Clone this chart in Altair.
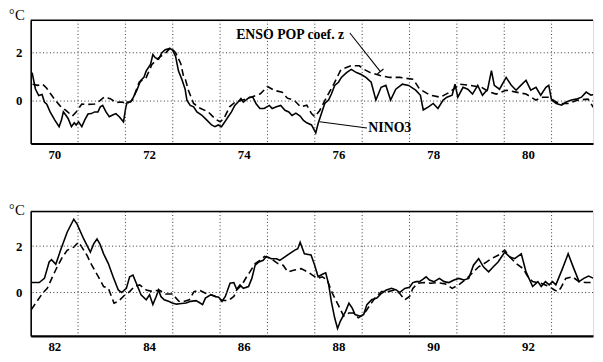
import altair as alt
import pandas as pd

SERIF = "Liberation Serif"

# ---------------- top panel (1970-1981) ----------------
top_nino3_year = [70.03, 70.10, 70.17, 70.24, 70.29, 70.34, 70.41, 70.51, 70.60, 70.65,
                  70.69, 70.74, 70.79, 70.86, 70.92, 70.96, 71.01, 71.08, 71.14, 71.21,
                  71.28, 71.35, 71.42, 71.47, 71.52, 71.59, 71.66, 71.73, 71.80, 71.87,
                  71.96, 72.01, 72.04, 72.11, 72.17, 72.24, 72.32, 72.39, 72.44, 72.53,
                  72.58, 72.63, 72.70, 72.77, 72.84, 72.94, 73.00, 73.06, 73.12, 73.19,
                  73.26, 73.30, 73.37, 73.44, 73.51, 73.61, 73.72, 73.82, 73.89, 73.96,
                  74.03, 74.10, 74.17, 74.24, 74.31, 74.38, 74.44, 74.49, 74.55, 74.62,
                  74.69, 74.76, 74.84, 74.93, 75.04, 75.10, 75.19, 75.28, 75.37, 75.45,
                  75.52, 75.60, 75.69, 75.76, 75.83, 75.93, 76.02, 76.07, 76.15, 76.21,
                  76.29, 76.35, 76.42, 76.50, 76.56, 76.67, 76.77, 76.88, 76.98, 77.08,
                  77.19, 77.29, 77.40, 77.50, 77.60, 77.71, 77.85, 77.98, 78.13, 78.23,
                  78.29, 78.40, 78.50, 78.60, 78.71, 78.79, 78.90, 78.96, 79.02, 79.13,
                  79.23, 79.33, 79.44, 79.54, 79.65, 79.73, 79.79, 79.90, 80.04, 80.15,
                  80.25, 80.35, 80.46, 80.56, 80.67, 80.77, 80.88, 80.94, 81.00, 81.10,
                  81.21, 81.31, 81.42, 81.52, 81.63, 81.73, 81.83, 81.92]
top_nino3_val = [1.18, 0.50, 0.23, 0.27, -0.04, -0.13, -0.45, -0.79, -1.06, -0.79,
                 -0.45, -0.58, -0.72, -1.06, -0.90, -0.99, -0.86, -1.06, -0.79, -0.54,
                 -0.52, -0.45, -0.45, -0.24, -0.18, -0.45, -0.65, -0.58, -0.52, -0.65,
                 -0.86, -0.24, -0.04, -0.04, 0.16, 0.44, 0.84, 0.98, 1.25, 1.52,
                 1.93, 1.80, 1.73, 2.00, 2.13, 2.18, 2.10, 1.85, 1.25, 0.91,
                 0.50, 0.03, -0.18, -0.24, -0.45, -0.58, -0.79, -0.99, -1.06, -0.99,
                 -1.06, -0.86, -0.65, -0.45, -0.18, -0.04, 0.10, -0.04, 0.05, 0.16,
                 0.16, -0.11, -0.31, -0.31, -0.18, -0.31, -0.24, -0.18, -0.38, -0.45,
                 -0.60, -0.50, -0.62, -0.80, -0.90, -0.99, -1.32, -0.93, -0.45, -0.10,
                 0.04, 0.29, 0.65, 0.78, 0.98, 1.18, 1.31, 1.18, 1.10, 0.98,
                 0.78, 0.04, 0.57, 0.65, 0.04, 0.49, 0.70, 0.65, 0.45, 0.24,
                 -0.37, -0.24, -0.10, -0.31, 0.04, 0.16, 0.24, 0.70, 0.16, 0.57,
                 0.49, 0.29, 0.65, 0.24, 0.49, 1.26, 0.65, 0.49, 0.98, 0.65,
                 0.45, 0.65, 0.86, 0.45, 0.57, 0.24, 0.57, 0.65, 0.04, -0.10,
                 -0.17, -0.04, 0.04, 0.08, 0.16, 0.37, 0.24, 0.29]
top_pop_year = [70.04, 70.15, 70.25, 70.33, 70.42, 70.52, 70.62, 70.75, 70.88, 70.96,
                71.08, 71.20, 71.35, 71.45, 71.55, 71.68, 71.80, 71.92, 72.04, 72.15,
                72.29, 72.44, 72.56, 72.71, 72.85, 72.96, 73.06, 73.17, 73.23, 73.27,
                73.33, 73.44, 73.58, 73.75, 73.90, 74.00, 74.08, 74.20, 74.32, 74.48,
                74.65, 74.85, 75.00, 75.15, 75.31, 75.42, 75.56, 75.70, 75.83, 75.93,
                76.00, 76.10, 76.25, 76.40, 76.55, 76.76, 76.94, 77.05, 77.17, 77.38,
                77.58, 77.79, 78.08, 78.21, 78.44, 78.65, 78.85, 79.06, 79.27, 79.52,
                79.69, 79.83, 80.04, 80.25, 80.46, 80.67, 80.81, 80.94, 81.15, 81.35,
                81.56, 81.77, 81.92]
top_pop_val = [0.70, 0.65, 0.70, 0.55, 0.30, 0.03, -0.20, -0.40, -0.62, -0.45,
               -0.12, -0.14, -0.12, 0.00, 0.16, 0.10, -0.06, -0.04, -0.10, 0.04,
               0.78, 0.98, 1.52, 1.80, 2.00, 2.22, 2.00, 1.55, 1.00, 0.88,
               0.45, -0.10, -0.30, -0.45, -0.75, -0.86, -0.72, -0.24, -0.04, 0.04,
               0.16, 0.30, 0.60, 0.44, 0.37, 0.12, 0.04, -0.24, -0.17, -0.52,
               -0.65, -0.40, 0.16, 0.70, 1.30, 1.46, 1.46, 1.30, 1.18, 1.06,
               0.98, 0.98, 0.90, 0.50, 0.24, 0.16, 0.37, 0.70, 0.65, 0.57,
               0.37, 0.29, 0.45, 0.37, 0.29, 0.04, 0.16, 0.16, -0.10, -0.10,
               0.04, 0.08, -0.37]

# ---------------- bottom panel (1982-1993) ----------------
bot_nino3_year = [82.01, 82.18, 82.29, 82.39, 82.44, 82.53, 82.63, 82.77, 82.91, 82.98,
                  83.12, 83.26, 83.33, 83.40, 83.46, 83.54, 83.64, 83.74, 83.85, 83.92,
                  84.02, 84.09, 84.16, 84.23, 84.33, 84.44, 84.51, 84.58, 84.65, 84.70,
                  84.75, 84.82, 84.91, 84.99, 85.08, 85.14, 85.28, 85.38, 85.49, 85.56,
                  85.63, 85.69, 85.80, 85.90, 85.97, 86.04, 86.11, 86.21, 86.29, 86.35,
                  86.42, 86.49, 86.60, 86.67, 86.74, 86.82, 86.91, 86.98, 87.08, 87.19,
                  87.26, 87.36, 87.46, 87.57, 87.64, 87.69, 87.78, 87.92, 87.99, 88.07,
                  88.17, 88.23, 88.29, 88.35, 88.42, 88.48, 88.54, 88.65, 88.72, 88.79,
                  88.85, 88.96, 89.03, 89.10, 89.20, 89.31, 89.41, 89.51, 89.62, 89.72,
                  89.79, 89.90, 90.00, 90.07, 90.14, 90.21, 90.28, 90.35, 90.42, 90.52,
                  90.63, 90.73, 90.83, 90.94, 91.04, 91.15, 91.25, 91.35, 91.46, 91.56,
                  91.67, 91.77, 91.87, 92.01, 92.12, 92.22, 92.36, 92.46, 92.60, 92.71,
                  92.78, 92.87, 92.95, 93.02, 93.09, 93.23, 93.35, 93.47, 93.58, 93.68,
                  93.78, 93.89]
bot_nino3_val = [0.43, 0.43, 0.61, 1.32, 1.42, 1.22, 1.82, 2.60, 3.16, 2.95,
                 2.31, 1.74, 2.10, 2.31, 2.10, 1.67, 1.25, 0.68, 0.11, 0.00,
                 0.18, 0.68, 0.75, 0.40, -0.10, -0.31, -0.10, -0.52, -0.17, 0.11,
                 -0.17, -0.31, -0.38, -0.45, -0.50, -0.48, -0.45, -0.38, -0.35, -0.43,
                 -0.52, -0.24, -0.10, -0.17, -0.20, -0.38, -0.17, 0.40, 0.43, 0.14,
                 0.33, 0.18, 0.26, 0.61, 1.18, 1.32, 1.39, 1.56, 1.46, 1.46,
                 1.39, 1.53, 1.67, 1.82, 1.89, 2.17, 1.67, 1.62, 1.22, 0.68,
                 0.80, 0.85, 0.37, -0.40, -1.10, -1.55, -1.23, -0.81, -0.46, -0.67,
                 -0.95, -1.02, -0.95, -0.52, -0.31, -0.24, -0.03, 0.11, 0.18, 0.11,
                 0.00, 0.18, 0.23, 0.43, 0.47, 0.47, 0.57, 0.68, 0.54, 0.47,
                 0.61, 0.47, 0.43, 0.54, 0.61, 0.54, 0.61, 1.18, 1.46, 1.11,
                 0.89, 1.11, 1.32, 1.74, 1.53, 1.46, 1.67, 0.89, 0.26, 0.47,
                 0.26, 0.47, 0.33, 0.47, 0.33, 1.03, 1.67, 1.03, 0.47, 0.61,
                 0.71, 0.61]
bot_pop_year = [82.01, 82.11, 82.25, 82.35, 82.46, 82.56, 82.67, 82.77, 82.91, 83.01,
                83.08, 83.19, 83.29, 83.43, 83.54, 83.64, 83.76, 83.85, 83.99, 84.09,
                84.19, 84.30, 84.44, 84.58, 84.71, 84.85, 84.99, 85.13, 85.21, 85.35,
                85.45, 85.56, 85.69, 85.87, 85.97, 86.04, 86.18, 86.29, 86.35, 86.46,
                86.56, 86.63, 86.74, 86.84, 86.94, 87.08, 87.22, 87.33, 87.43, 87.57,
                87.71, 87.85, 87.95, 88.06, 88.16, 88.26, 88.37, 88.51, 88.61, 88.72,
                88.82, 88.92, 89.03, 89.17, 89.27, 89.41, 89.55, 89.69, 89.79, 89.90,
                90.00, 90.07, 90.17, 90.31, 90.45, 90.59, 90.76, 90.90, 91.04, 91.21,
                91.46, 91.63, 91.73, 91.88, 92.01, 92.12, 92.25, 92.40, 92.50, 92.60,
                92.77, 92.95, 93.06, 93.13, 93.19, 93.30, 93.44, 93.58, 93.71, 93.89]
bot_pop_val = [-0.74, -0.45, -0.03, 0.18, 0.68, 1.11, 1.53, 1.82, 1.96, 2.17,
               1.96, 1.60, 1.18, 0.68, 0.26, 0.18, -0.46, -0.38, -0.10, 0.04,
               0.26, 0.33, 0.11, 0.04, 0.11, -0.06, -0.06, -0.38, -0.40, -0.31,
               0.04, 0.11, -0.03, -0.14, -0.24, -0.34, -0.34, -0.17, 0.11, 0.33,
               0.68, 0.89, 1.25, 1.39, 1.56, 1.46, 1.25, 1.18, 0.89, 0.97,
               1.03, 0.89, 0.75, 0.61, 0.68, 0.54, -0.03, -0.60, -1.02, -0.88,
               -0.88, -1.09, -0.95, -0.52, -0.24, 0.04, 0.04, 0.11, -0.03, -0.31,
               -0.17, 0.18, 0.40, 0.43, 0.40, 0.43, 0.37, 0.18, 0.33, 0.61,
               1.11, 1.32, 1.46, 1.62, 1.83, 1.53, 1.25, 1.03, 0.68, 0.47,
               0.40, 0.26, 0.11, 0.04, 0.18, 0.61, 0.68, 0.47, 0.43, 0.43]

# axes, gridlines, labels
top_domain_x = [70.0, 81.875]
bot_domain_x = [82.0, 93.875]
top_domain_y = [-1.76, 3.35]
bot_domain_y = [-1.87, 3.49]
top_grid_years = [71, 72, 73, 74, 75, 76, 77, 78, 79, 80, 81]
bot_grid_years = [83, 84, 85, 86, 87, 88, 89, 90, 91, 92, 93]
top_label_years = [70.5, 72.5, 74.5, 76.5, 78.5, 80.5]
bot_label_years = [82.5, 84.5, 86.5, 88.5, 90.5, 92.5]
grid_values = [0, 2]
y_tick_values = [0, 2]
unit_label = ["°", "C"]

# annotations (top panel)
ann_text = ["ENSO POP coef. z", "NINO3"]
ann_x = [75.48, 77.13]
ann_y = [2.73, -1.12]
ann_align = ["center", "left"]
lead_x1 = [76.74, 76.10, 77.32]
lead_y1 = [2.82, -0.86, 1.12]
lead_x2 = [77.385, 77.10, 77.45]
lead_y2 = [1.22, -1.12, 1.33]

W = 570


def panel(n_yr, n_val, p_yr, p_val, x_dom, y_dom, grid_years, label_years, h,
          deg_dy, annotate):
    xs = alt.Scale(domain=x_dom, nice=False, zero=False)
    ys = alt.Scale(domain=y_dom, nice=False, zero=False)
    xaxis = alt.Axis(values=label_years, labelExpr="floor(datum.value)", grid=False,
                     ticks=False, domainWidth=2.2, domainColor="black",
                     labelFont=SERIF, labelFontSize=13, labelFontWeight="bold",
                     labelColor="black", labelPadding=5, title=None,
                     labelFlush=False, labelOverlap=False)
    yaxis = alt.Axis(values=y_tick_values, grid=False, ticks=False, domainWidth=1.6,
                     domainColor="black", labelFont=SERIF, labelFontSize=13,
                     labelFontWeight="bold", labelColor="black", labelPadding=9,
                     title=None)

    def X(f):
        return alt.X(f, scale=xs, axis=xaxis)

    def Y(f):
        return alt.Y(f, scale=ys, axis=yaxis)

    nino = alt.Chart(pd.DataFrame({"yr": n_yr, "val": n_val})).mark_line(
        color="black", strokeWidth=1.6, clip=True
    ).encode(x=X("yr:Q"), y=Y("val:Q"))
    pop = alt.Chart(pd.DataFrame({"yr": p_yr, "val": p_val})).mark_line(
        color="black", strokeWidth=1.6, strokeDash=[7, 4], clip=True
    ).encode(x=X("yr:Q"), y=Y("val:Q"))
    vgrid = alt.Chart(pd.DataFrame({"yr": grid_years})).mark_rule(
        color="#333", strokeWidth=1, strokeDash=[1, 2.5]
    ).encode(x=X("yr:Q"))
    hgrid = alt.Chart(pd.DataFrame({"val": grid_values})).mark_rule(
        color="#333", strokeWidth=1, strokeDash=[1, 2.5]
    ).encode(y=Y("val:Q"))
    border = alt.Chart(pd.DataFrame({"a": [0]})).mark_rule(
        color="black", strokeWidth=1.5
    ).encode(x=alt.value(0), x2=alt.value(W), y=alt.value(0))
    deg = alt.Chart(pd.DataFrame({"t": [unit_label[0]]})).mark_text(
        font=SERIF, fontSize=14, align="left", baseline="alphabetic", color="black"
    ).encode(x=alt.value(-22), y=alt.value(deg_dy - 1), text="t:N")
    cee = alt.Chart(pd.DataFrame({"t": [unit_label[1]]})).mark_text(
        font=SERIF, fontSize=15, align="left", baseline="alphabetic", color="black"
    ).encode(x=alt.value(-16), y=alt.value(deg_dy), text="t:N")
    layers = [nino, pop, vgrid, hgrid, border, deg, cee]
    if annotate:
        lead = alt.Chart(pd.DataFrame({"x1": lead_x1, "y1": lead_y1,
                                       "x2": lead_x2, "y2": lead_y2})).mark_rule(
            color="black", strokeWidth=1.1
        ).encode(x=X("x1:Q"), y=Y("y1:Q"), x2="x2:Q", y2="y2:Q")
        txt = alt.Chart(pd.DataFrame({"t": ann_text, "x": ann_x, "y": ann_y,
                                      "al": ann_align}))
        t1 = txt.transform_filter("datum.al == 'center'").mark_text(
            font=SERIF, fontSize=14, fontWeight="bold", align="center",
            baseline="middle", color="black"
        ).encode(x=X("x:Q"), y=Y("y:Q"), text="t:N")
        t2 = txt.transform_filter("datum.al == 'left'").mark_text(
            font=SERIF, fontSize=14, fontWeight="bold", align="left",
            baseline="middle", color="black"
        ).encode(x=X("x:Q"), y=Y("y:Q"), text="t:N")
        layers += [lead, t1, t2]
    return alt.layer(*layers).properties(width=W, height=h)


top = panel(top_nino3_year, top_nino3_val, top_pop_year, top_pop_val,
            top_domain_x, top_domain_y, top_grid_years, top_label_years, 125, 0, True)
bottom = panel(bot_nino3_year, bot_nino3_val, bot_pop_year, bot_pop_val,
               bot_domain_x, bot_domain_y, bot_grid_years, bot_label_years, 126, 3, False)

chart = alt.vconcat(top, bottom, spacing=69, bounds="flush").properties(
    padding={"left": 0, "top": -3, "right": 0, "bottom": 0}
).configure_view(stroke=None).configure(background="white")

chart.save("out.html", embed_options={"renderer": "svg", "actions": False})
